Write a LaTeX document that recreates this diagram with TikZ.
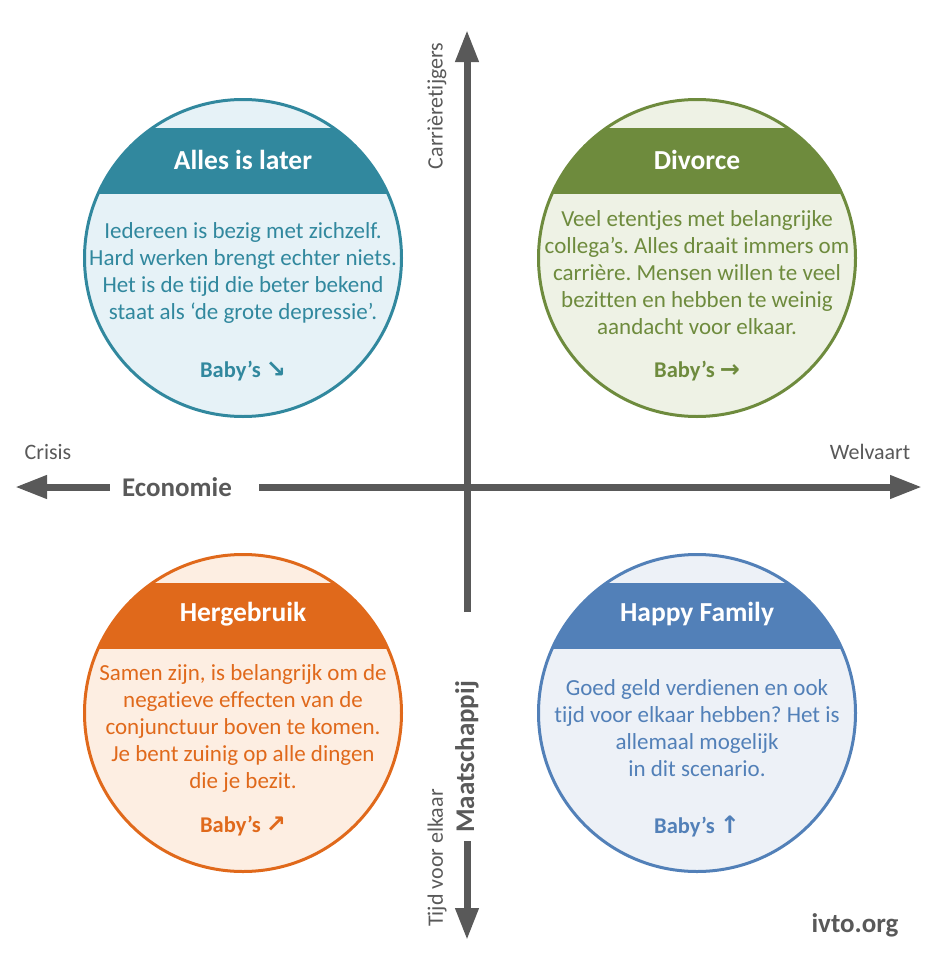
\documentclass[tikz,border=0pt]{standalone}
\usepackage{fontspec}
\setmainfont{Carlito}[Ligatures=NoCommon]
\newfontfamily\arrowfont{DejaVu Sans}
\usetikzlibrary{arrows.meta}
\frenchspacing

\definecolor{axisgray}{HTML}{595959}
\definecolor{alcol}{HTML}{31889E}
\definecolor{alfill}{HTML}{E6F2F7}
\definecolor{divcol}{HTML}{6E8B3D}
\definecolor{divfill}{HTML}{EEF2E5}
\definecolor{hercol}{HTML}{E0691B}
\definecolor{herfill}{HTML}{FDEEE2}
\definecolor{hapcol}{HTML}{5280B8}
\definecolor{hapfill}{HTML}{EDF1F7}

\tikzset{
  axisarrow/.style={line width=7pt, draw=axisgray, -{Triangle[length=32pt,width=22pt]}},
  scen/.style={circle, minimum size=317pt, inner sep=0pt},
  ring/.style={line width=3pt},
  headtext/.style={text=white, font=\fontsize{27.5}{31}\selectfont\bfseries},
  bodytext/.style={align=center, font=\fontsize{23}{27}\selectfont},
  babytext/.style={font=\fontsize{22.5}{26}\selectfont\bfseries},
  axlab/.style={text=axisgray, font=\fontsize{22}{26}\selectfont},
  axbold/.style={text=axisgray, font=\fontsize{27}{32}\selectfont\bfseries, inner sep=0pt},
}
\newcommand{\babyarrow}[1]{{\arrowfont\fontsize{24}{26}\selectfont #1}}

\begin{document}
\begin{tikzpicture}[x=1pt, y=-1pt]
\useasboundingbox (0,0) rectangle (937,972);

% axes
\coordinate (ntop) at (467,30);
\coordinate (nend) at (467,612);
\coordinate (sbot) at (467,940);
\coordinate (west) at (15,487);
\coordinate (east) at (922,487);
\node[axbold] (econ) at (177,487) {Economie};
\node[axbold, rotate=90] (maat) at (467,757) {Maatschappij};
\draw[axisarrow] ([xshift=-12pt]econ.west) -- (west);
\draw[axisarrow] ([xshift=27pt]econ.east) -- (east);
\draw[axisarrow] (nend) -- (ntop);
\draw[axisarrow] ([yshift=-8pt]maat.west) -- (sbot);
\node[axlab] (crisis) at (48,452) {Crisis};
\node[axlab] (welv) at (870,452) {Welvaart};
\node[axlab, rotate=90] (carr) at (437,106) {Carrièretijgers};
\node[axlab, rotate=90] (tijd) at (437,858) {Tijd voor elkaar};

% Alles is later
\node[scen, fill=alfill] (al) at (243,258) {};
\begin{scope}
  \clip (al.center) circle (158.5pt);
  \fill[alcol] (al.center) ++(-170,-130) rectangle ++(340,66);
\end{scope}
\draw[ring, alcol] (al.center) circle (158.5pt);
\node[headtext] (alhead) at (243,160) {Alles is later};
\node[bodytext, text=alcol] (albody) at (243,273) {Iedereen is bezig met zichzelf.\\Hard werken brengt echter niets.\\Het is de tijd die beter bekend\\staat als ‘de grote depressie’.};
\node[babytext, text=alcol] (albaby) at (243,371) {Baby’s \babyarrow{↘}};

% Divorce
\node[scen, fill=divfill] (div) at (697,258) {};
\begin{scope}
  \clip (div.center) circle (158.5pt);
  \fill[divcol] (div.center) ++(-170,-130) rectangle ++(340,66);
\end{scope}
\draw[ring, divcol] (div.center) circle (158.5pt);
\node[headtext] (divhead) at (697,160) {Divorce};
\node[bodytext, text=divcol] (divbody) at (697,273) {Veel etentjes met belangrijke\\collega’s. Alles draait immers om\\carrière. Mensen willen te veel\\bezitten en hebben te weinig\\aandacht voor elkaar.};
\node[babytext, text=divcol] (divbaby) at (697,371) {Baby’s \babyarrow{→}};

% Hergebruik
\node[scen, fill=herfill] (her) at (243,713) {};
\begin{scope}
  \clip (her.center) circle (158.5pt);
  \fill[hercol] (her.center) ++(-170,-130) rectangle ++(340,66);
\end{scope}
\draw[ring, hercol] (her.center) circle (158.5pt);
\node[headtext] (herhead) at (243,614) {Hergebruik};
\node[bodytext, text=hercol] (herbody) at (243,728) {Samen zijn, is belangrijk om de\\negatieve effecten van de\\conjunctuur boven te komen.\\Je bent zuinig op alle dingen\\die je bezit.};
\node[babytext, text=hercol] (herbaby) at (243,826) {Baby’s \babyarrow{↗}};

% Happy Family
\node[scen, fill=hapfill] (hap) at (697,713) {};
\begin{scope}
  \clip (hap.center) circle (158.5pt);
  \fill[hapcol] (hap.center) ++(-170,-130) rectangle ++(340,66);
\end{scope}
\draw[ring, hapcol] (hap.center) circle (158.5pt);
\node[headtext] (haphead) at (697,614) {Happy Family};
\node[bodytext, text=hapcol] (hapbody) at (697,728) {Goed geld verdienen en ook\\tijd voor elkaar hebben? Het is\\allemaal mogelijk\\in dit scenario.};
\node[babytext, text=hapcol] (hapbaby) at (697,826) {Baby’s \babyarrow{↑}};

\node[axbold] (ivto) at (855,925) {ivto.org};
\end{tikzpicture}
\end{document}
